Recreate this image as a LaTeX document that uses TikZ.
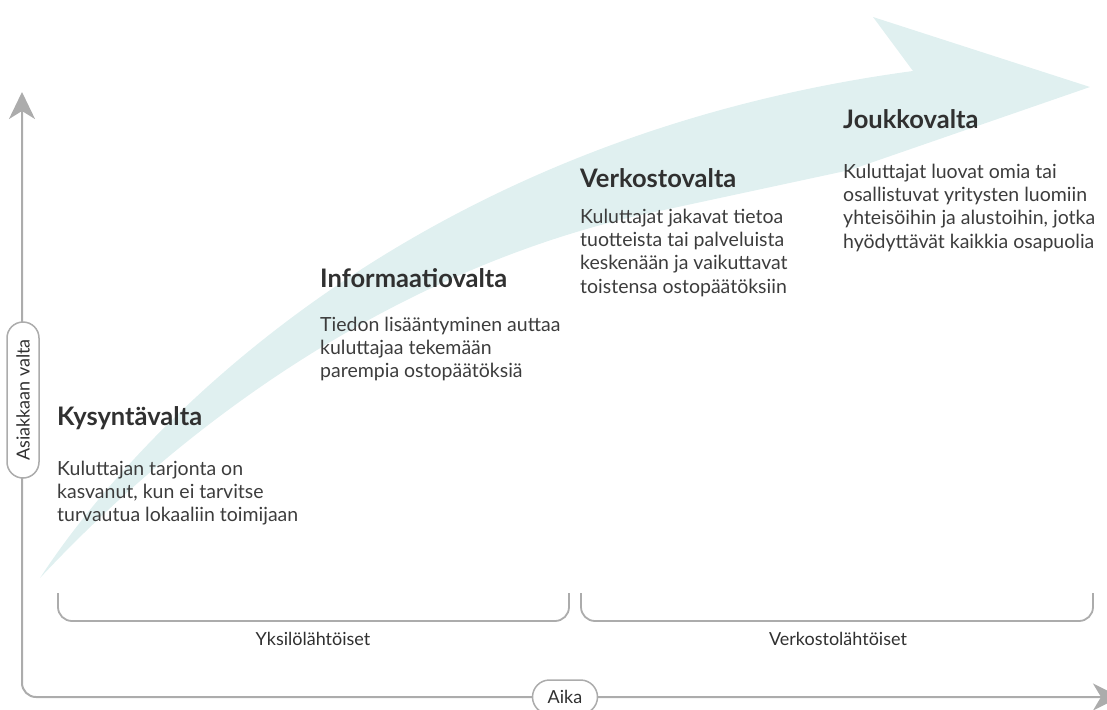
\documentclass[tikz,border=0pt]{standalone}
\usepackage{fontspec}
\setmainfont{Lato}
\usetikzlibrary{arrows.meta}
\definecolor{arrowfill}{RGB}{224,240,240}
\definecolor{axisgray}{RGB}{172,172,172}
\definecolor{headcol}{RGB}{48,48,48}
\definecolor{bodycol}{RGB}{60,60,60}
\begin{document}
\begin{tikzpicture}[x=1pt,y=-1pt,
  heading/.style={anchor=base west, inner sep=0pt, font=\fontsize{25.5}{30}\selectfont\bfseries, text=headcol},
  bodytext/.style={anchor=north west, inner sep=0pt, align=left, font=\fontsize{19.5}{23.2}\selectfont, text=bodycol},
  axisline/.style={draw=axisgray, line width=2pt, rounded corners=14pt},
  bracketline/.style={draw=axisgray, line width=1.8pt, rounded corners=14pt},
  pill/.style={draw=axisgray, line width=1.5pt, fill=white, inner sep=0pt, text=headcol, font=\fontsize{18}{21}\selectfont},
  grouplabel/.style={inner sep=0pt, text=headcol, font=\fontsize{18}{21}\selectfont}
]
\useasboundingbox (0,0) rectangle (1107,709);

% big curved arrow
\fill[arrowfill] (40,578) .. controls (130,440) and (400,140) .. (913,71)
  -- (873,17) -- (1090,87) -- (850,170) -- (650,213)
  .. controls (450,256) and (230,375) .. (40,578) -- cycle;

% axes
\coordinate (ytop) at (22,92);
\coordinate (corner) at (22,697);
\coordinate (xend) at (1120,697);
\draw[axisline, {Stealth[length=27pt,width=26pt,inset=8pt]}-{Stealth[length=27pt,width=27pt,inset=8pt]}] (ytop) -- (corner) -- (xend);

\node[pill, rotate=90, minimum width=156pt, minimum height=32pt, rounded corners=16pt] (yaxis) at (23,400) {Asiakkaan valta};
\node[pill, minimum width=65pt, minimum height=34pt, rounded corners=17pt] (xaxis) at (565,697) {Aika};

% brackets
\coordinate (b1a) at (58,593);
\coordinate (b1b) at (58,621);
\coordinate (b1c) at (569,621);
\coordinate (b1d) at (569,593);
\coordinate (b2a) at (581,593);
\coordinate (b2b) at (581,621);
\coordinate (b2c) at (1093,621);
\coordinate (b2d) at (1093,593);
\draw[bracketline] (b1a) -- (b1b) -- (b1c) -- (b1d);
\draw[bracketline] (b2a) -- (b2b) -- (b2c) -- (b2d);
\node[grouplabel] (g1) at (313,639) {Yksilölähtöiset};
\node[grouplabel] (g2) at (838,639) {Verkostolähtöiset};

% stages
\node[heading] (h1) at (57,425) {Kysyntävalta};
\node[bodytext] (t1) at (57,461) {Kuluttajan tarjonta on\\kasvanut, kun ei tarvitse\\turvautua lokaaliin toimijaan};

\node[heading] (h2) at (320,287) {Informaatiovalta};
\node[bodytext] (t2) at (320,317) {Tiedon lisääntyminen auttaa\\kuluttajaa tekemään\\parempia ostopäätöksiä};

\node[heading] (h3) at (580,187) {Verkostovalta};
\node[bodytext] (t3) at (580,209) {Kuluttajat jakavat tietoa\\tuotteista tai palveluista\\keskenään ja vaikuttavat\\toistensa ostopäätöksiin};

\node[heading] (h4) at (843,128) {Joukkovalta};
\node[bodytext] (t4) at (843,164) {Kuluttajat luovat omia tai\\osallistuvat yritysten luomiin\\yhteisöihin ja alustoihin, jotka\\hyödyttävät kaikkia osapuolia};
\end{tikzpicture}
\end{document}
